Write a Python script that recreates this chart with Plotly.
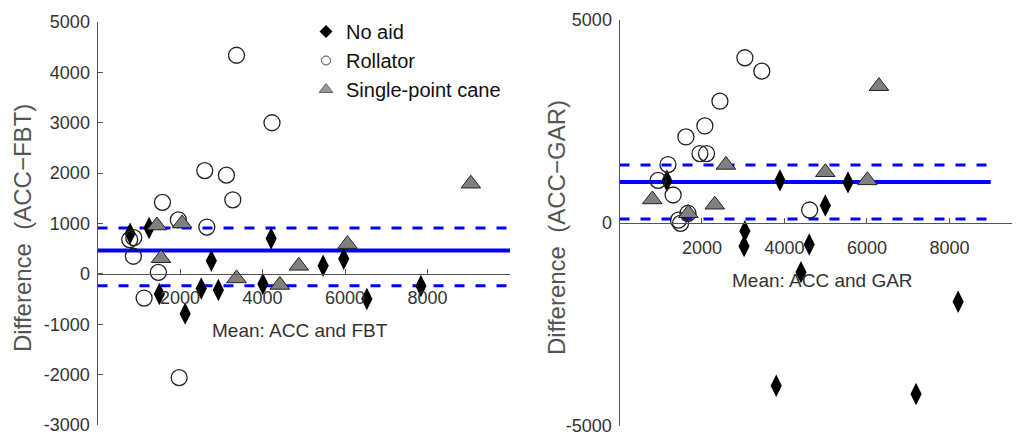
import plotly.graph_objects as go

# ---------------- data ----------------
# Left panel: ACC vs FBT
noaid_fbt_x = [790, 1250, 1500, 2125, 2515, 2760, 2930, 4010, 4210, 5470, 5970, 6530, 7840]
noaid_fbt_y = [800, 910, -400, -790, -290, 260, -320, -200, 700, 160, 300, -500, -240]

rollator_fbt_x = [780, 880, 870, 1130, 1475, 1575, 1960, 1980, 2600, 2650, 3125, 3280, 3370, 4230]
rollator_fbt_y = [680, 720, 350, -480, 30, 1420, 1070, -2060, 2050, 930, 1960, 1470, 4340, 3000]

cane_fbt_x = [1440, 1540, 2050, 3370, 4420, 4880, 6060, 9050]
cane_fbt_y = [960, 310, 1000, -90, -220, 160, 590, 1790]

fbt_bias = 465
fbt_loa_low = -235
fbt_loa_high = 910

# Right panel: ACC vs GAR
noaid_gar_x = [1150, 3040, 3020, 3890, 4400, 4600, 4990, 5540, 3800, 7190, 8210]
noaid_gar_y = [1040, -200, -570, 1050, -1210, -530, 430, 1000, -4010, -4210, -1940]

rollator_gar_x = [3040, 3450, 2435, 2070, 1610, 1950, 2110, 1175, 935, 1300, 1660, 1430, 1480, 4610]
rollator_gar_y = [4070, 3740, 3000, 2390, 2120, 1710, 1710, 1440, 1050, 690, 240, 70, -10, 320]

cane_gar_x = [795, 1670, 2310, 2580, 4990, 6010, 6290]
cane_gar_y = [580, 240, 450, 1430, 1250, 1050, 3370]

gar_bias = 1010
gar_loa_low = 100
gar_loa_high = 1430

# tick labels
x_tickvals = [0, 2000, 4000, 6000, 8000, 10000]
x_ticktext = ["", "2000", "4000", "6000", "8000", ""]
y1_tickvals = [-3000, -2000, -1000, 0, 1000, 2000, 3000, 4000, 5000]
y1_ticktext = ["-3000", "-2000", "-1000", "0", "1000", "2000", "3000", "4000", "5000"]
y2_tickvals = [-5000, 0, 5000]
y2_ticktext = ["-5000", "0", "5000"]

legend_names = ["No aid", "Rollator", "Single-point cane"]

# ---------------- layout geometry ----------------
# The page body has an 8px margin, so the figure is drawn 8px smaller and
# all target pixel positions are shifted by that offset.
OFF = 8
W, H = 1020 - OFF, 436 - OFF
FONT = "Liberation Sans, Arial, sans-serif"


def fx(px):
    return (px - OFF) / W


def fy(py):
    return (H - (py - OFF)) / H


x1_range = [0, 10000]
y1_range = [-3000, 5000]
x2_range = [0, 9710]
y2_range = [-5000, 5000]
fbt_line_end = 10000
gar_line_end = 9000

x1_dom = [fx(97.5), fx(510)]
y1_dom = [fy(425), fy(22)]
x2_dom = [fx(619.5), 1.0]
y2_dom = [fy(426), fy(20)]


def zero_pos(dom, rng):
    return dom[0] + (0 - rng[0]) / (rng[1] - rng[0]) * (dom[1] - dom[0])


BLACK = "#111111"
AXC = "#555555"
TICKC = "#333333"

diamond = dict(symbol="diamond-tall", size=16, color="black", line=dict(width=0))
circle = dict(symbol="circle-open", size=16, color="#222222", line=dict(width=1.3))
tri = dict(symbol="triangle-up", size=17, color="#808080", line=dict(color="#222222", width=1))

fig = go.Figure()

def add_panel(xa, ya, nx, ny, rx, ry, cx, cy):
    fig.add_trace(go.Scatter(x=nx, y=ny, mode="markers", marker=diamond,
                             xaxis=xa, yaxis=ya, showlegend=False, name=legend_names[0]))
    fig.add_trace(go.Scatter(x=rx, y=ry, mode="markers", marker=circle,
                             xaxis=xa, yaxis=ya, showlegend=False, name=legend_names[1]))
    fig.add_trace(go.Scatter(x=cx, y=cy, mode="markers", marker=tri,
                             xaxis=xa, yaxis=ya, showlegend=False, name=legend_names[2]))

add_panel("x", "y", noaid_fbt_x, noaid_fbt_y, rollator_fbt_x, rollator_fbt_y, cane_fbt_x, cane_fbt_y)
add_panel("x2", "y2", noaid_gar_x, noaid_gar_y, rollator_gar_x, rollator_gar_y, cane_gar_x, cane_gar_y)

# legend-only traces (small symbols)
fig.add_trace(go.Scatter(x=[None], y=[None], mode="markers", name=legend_names[0],
                         marker=dict(symbol="diamond", size=10, color="black")))
fig.add_trace(go.Scatter(x=[None], y=[None], mode="markers", name=legend_names[1],
                         marker=dict(symbol="circle-open", size=9, color="#444444", line=dict(width=1))))
fig.add_trace(go.Scatter(x=[None], y=[None], mode="markers", name=legend_names[2],
                         marker=dict(symbol="triangle-up", size=12, color="#999999",
                                     line=dict(color="#666666", width=1))))

# bias / limits of agreement lines
shapes = []
for xr, yr, end, bias, lo, hi in [("x", "y", fbt_line_end, fbt_bias, fbt_loa_low, fbt_loa_high),
                                  ("x2", "y2", gar_line_end, gar_bias, gar_loa_low, gar_loa_high)]:
    shapes.append(dict(type="line", xref=xr, yref=yr, x0=0, x1=end, y0=bias, y1=bias,
                       line=dict(color="#0000ff", width=4), layer="below"))
    for v in (lo, hi):
        shapes.append(dict(type="line", xref=xr, yref=yr, x0=0, x1=end, y0=v, y1=v,
                           line=dict(color="#0000ff", width=3, dash="10px,11px"), layer="below"))

xax_common = dict(showgrid=False, zeroline=False, showline=True, linecolor=AXC, linewidth=1,
                  ticks="inside", ticklen=5, tickcolor=AXC, tickwidth=1,
                  tickvals=x_tickvals, ticktext=x_ticktext,
                  tickfont=dict(family=FONT, size=18, color=TICKC),
                  ticklabelstandoff=8, anchor="free", automargin=False)
yax_common = dict(showgrid=False, zeroline=False, showline=True, linecolor=AXC, linewidth=1,
                  ticks="inside", ticklen=5, tickcolor=AXC, tickwidth=1,
                  tickfont=dict(family=FONT, size=18, color=TICKC), ticklabelstandoff=3,
                  ticklabeloverflow="allow", automargin=False)

fig.update_layout(
    width=W, height=H,
    margin=dict(l=0, r=0, t=0, b=0, pad=0, autoexpand=False),
    paper_bgcolor="white", plot_bgcolor="white",
    font=dict(family=FONT, color=BLACK),
    xaxis=dict(domain=x1_dom, range=x1_range, position=zero_pos(y1_dom, y1_range), **xax_common),
    yaxis=dict(domain=y1_dom, range=y1_range, anchor="x", tickvals=y1_tickvals,
               ticktext=y1_ticktext, **yax_common),
    xaxis2=dict(domain=x2_dom, range=x2_range, position=zero_pos(y2_dom, y2_range), **xax_common),
    yaxis2=dict(domain=y2_dom, range=y2_range, anchor="x2", tickvals=y2_tickvals,
                ticktext=y2_ticktext, **yax_common),
    shapes=shapes,
    showlegend=True,
    legend=dict(x=fx(306), y=fy(12), xanchor="left", yanchor="top",
                bgcolor="rgba(0,0,0,0)", borderwidth=0,
                font=dict(family=FONT, size=20, color=BLACK),
                itemsizing="trace", tracegroupgap=0),
    annotations=[
        dict(text="Difference\u00a0\u00a0(ACC\u2212FBT)", xref="paper", yref="paper",
             x=fx(23), y=fy(228), textangle=-90, showarrow=False,
             font=dict(family=FONT, size=24, color="#555555"), xanchor="center", yanchor="middle"),
        dict(text="Difference\u00a0\u00a0(ACC\u2212GAR)", xref="paper", yref="paper",
             x=fx(557), y=fy(228), textangle=-90, showarrow=False,
             font=dict(family=FONT, size=24, color="#555555"), xanchor="center", yanchor="middle"),
        dict(text="Mean: ACC and FBT", xref="paper", yref="paper",
             x=fx(300), y=fy(330), showarrow=False,
             font=dict(family=FONT, size=19, color="#333333"), xanchor="center", yanchor="middle"),
        dict(text="Mean: ACC and GAR", xref="paper", yref="paper",
             x=fx(822), y=fy(280), showarrow=False,
             font=dict(family=FONT, size=19, color="#333333"), xanchor="center", yanchor="middle"),
    ],
)

fig.write_html("out.html")
